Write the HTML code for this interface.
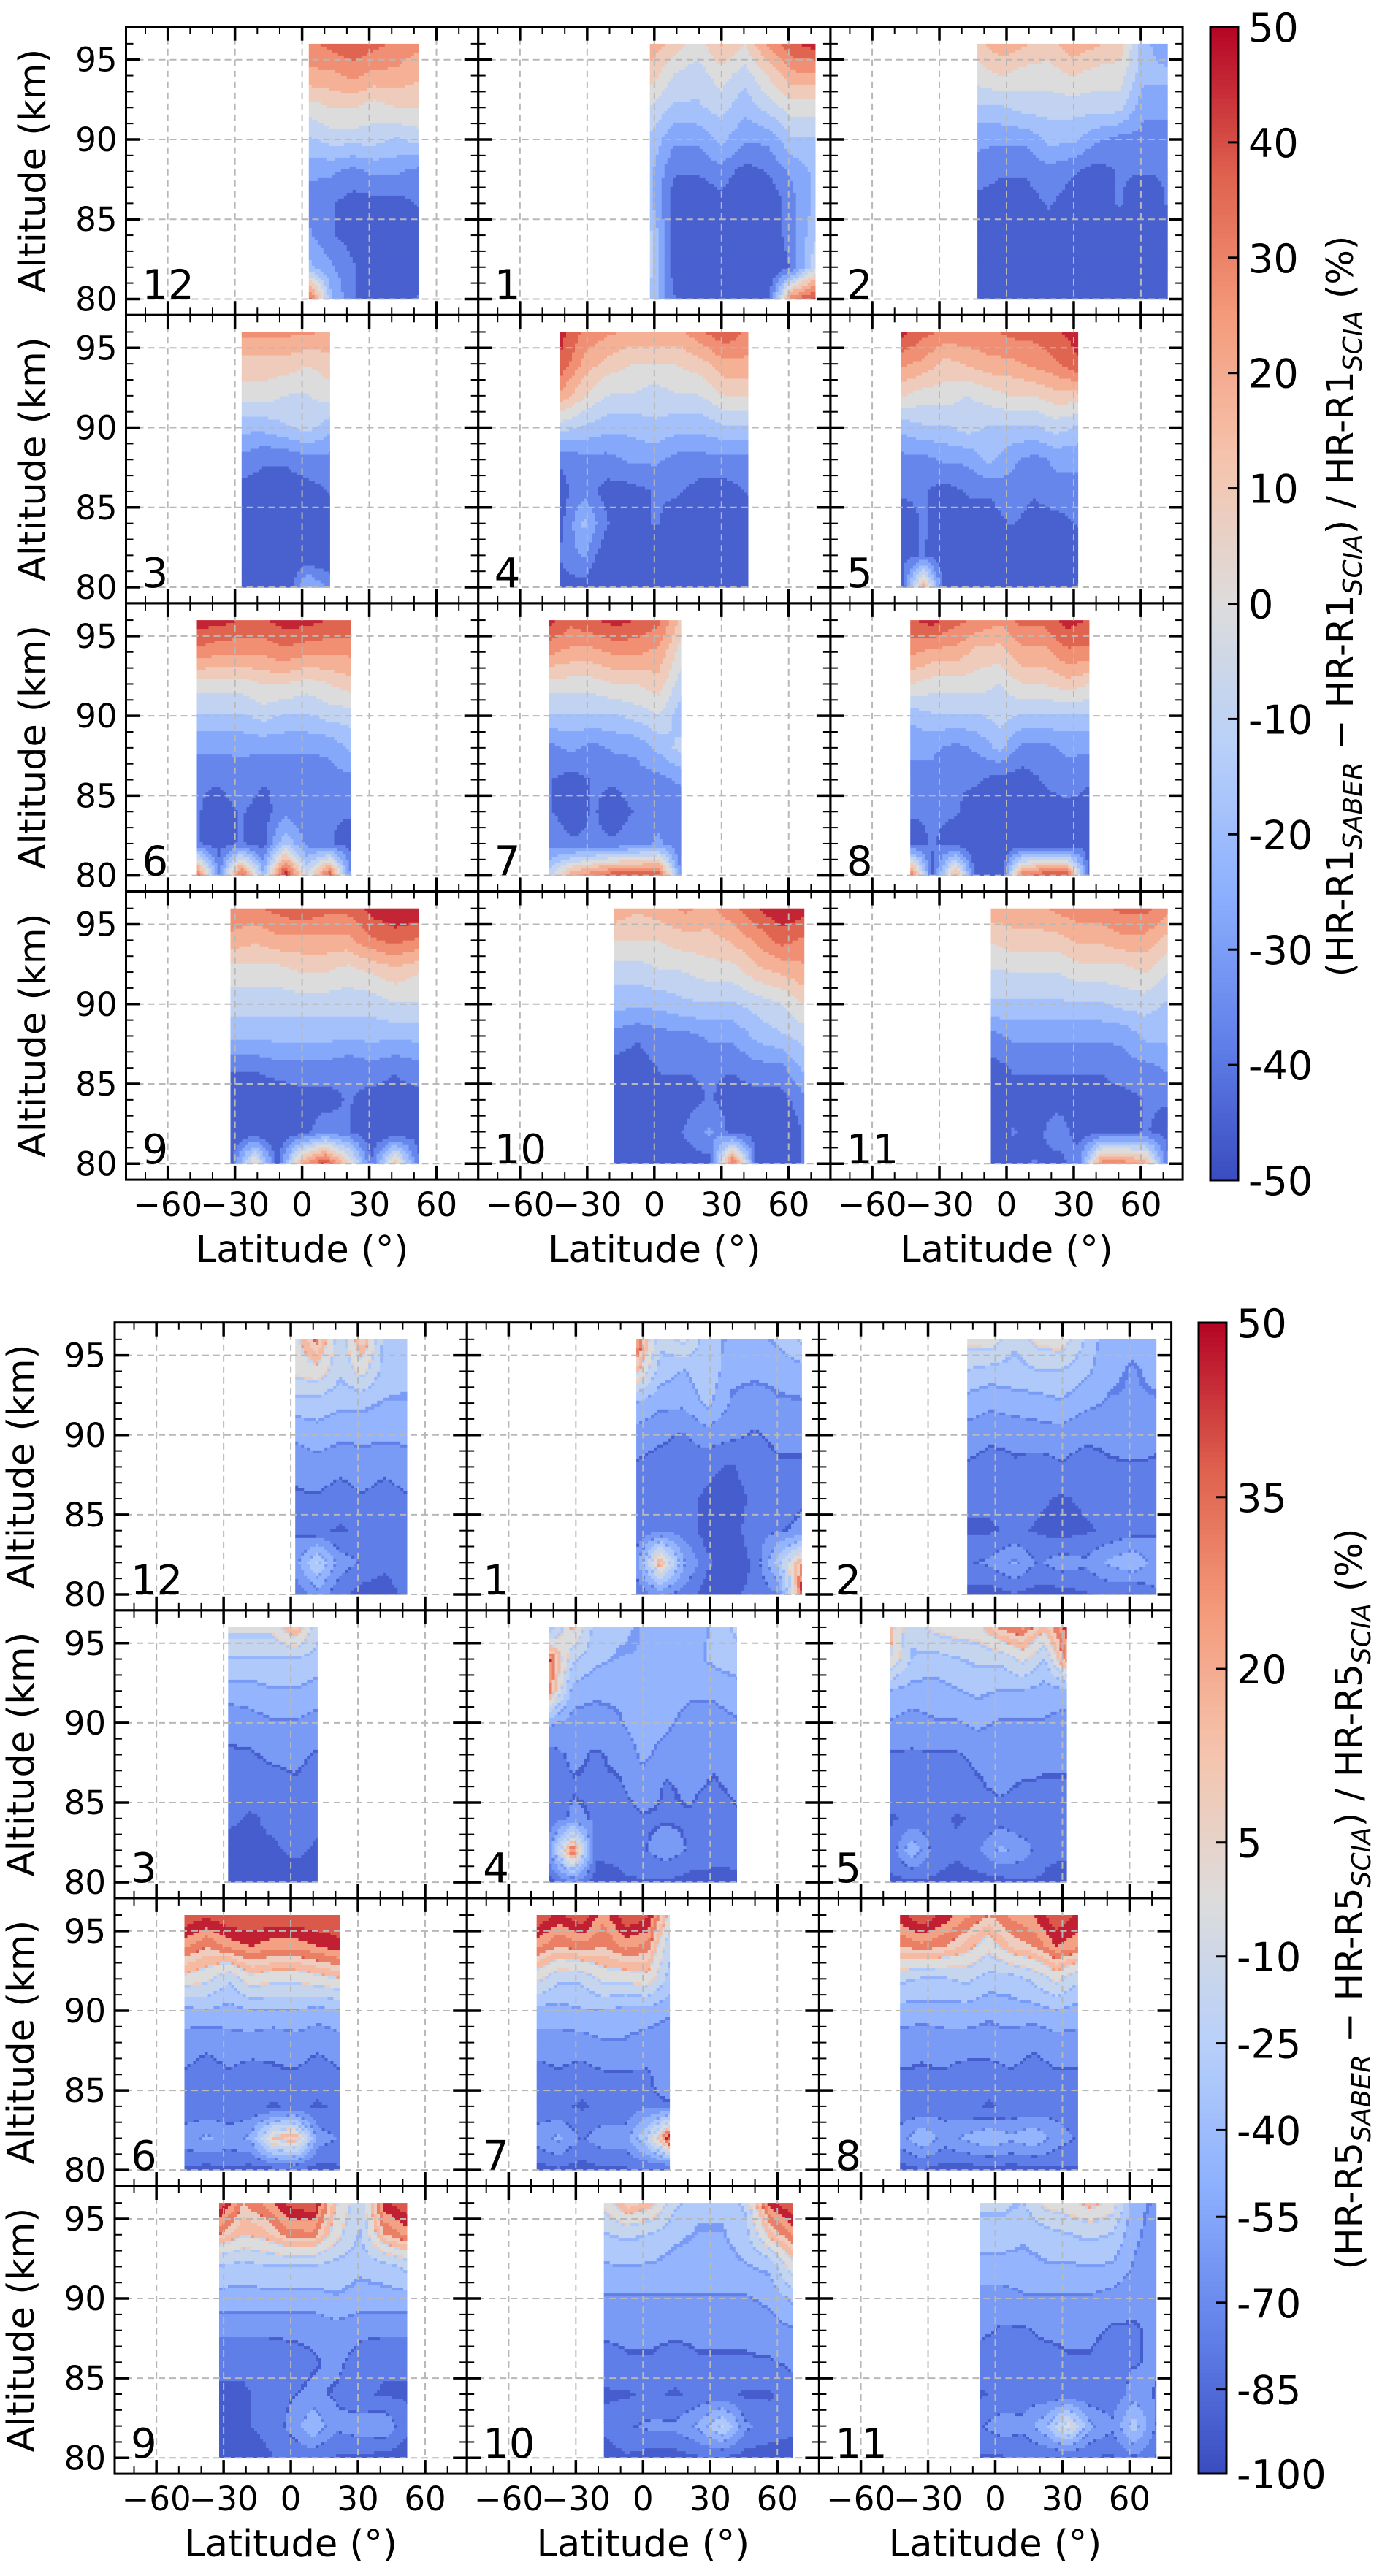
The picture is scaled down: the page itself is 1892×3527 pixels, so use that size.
<!DOCTYPE html>
<html><head><meta charset="utf-8"><style>
html,body{margin:0;padding:0;background:#fff;}
svg{display:block;font-family:"DejaVu Sans","Liberation Sans",sans-serif;}
</style></head><body>
<svg id="chart" xmlns="http://www.w3.org/2000/svg" width="1892" height="3527" viewBox="0 0 1892 3527">
<rect x="0" y="0" width="1892" height="3527" fill="#fff"/>
<text transform="translate(1852,830) rotate(-90)" text-anchor="middle" font-size="50">(HR-R1<tspan font-size="36" font-style="italic" dy="12">SABER</tspan><tspan dy="-12"> − HR-R1</tspan><tspan font-size="36" font-style="italic" dy="12">SCIA</tspan><tspan dy="-12">) / HR-R1</tspan><tspan font-size="36" font-style="italic" dy="12">SCIA</tspan><tspan dy="-12"> (%)</tspan></text>
<text transform="translate(1864,2600) rotate(-90)" text-anchor="middle" font-size="50">(HR-R5<tspan font-size="36" font-style="italic" dy="12">SABER</tspan><tspan dy="-12"> − HR-R5</tspan><tspan font-size="36" font-style="italic" dy="12">SCIA</tspan><tspan dy="-12">) / HR-R5</tspan><tspan font-size="36" font-style="italic" dy="12">SCIA</tspan><tspan dy="-12"> (%)</tspan></text>
</svg>
<script>
// ---------- data ----------
const months = [12,1,2,3,4,5,6,7,8,9,10,11];
const altitudes = [96,94,92,90,88,86,84,82,80];
const xTicks = [-60,-30,0,30,60];
const yTicks = [80,85,90,95];
const cbTicksR1 = [50,40,30,20,10,0,-10,-20,-30,-40,-50];
const cbTicksR5 = [50,35,20,5,-10,-25,-40,-55,-70,-85,-100];
const cbFracR5 = [0,0.1515,0.3008,0.4516,0.5506,0.6260,0.7014,0.7768,0.8514,0.9268,1];

const r1Lat = [[3,52],[-2,72],[-13,72],[-27,12.5],[-42,42],[-47,32],[-47,22],[-47,12],[-43,37],[-32,52],[-18,67],[-7,72]];
const r5Lat = [[2,52],[-3,71],[-12.5,72],[-28,12],[-42,42],[-47,32],[-47.5,22],[-47.5,12],[-42.5,37],[-32,52],[-17.5,67],[-7,72]];

const r1m12=[[30,35,40,35,30,25],[20,20,25,20,20,15],[0,5,5,0,5,5],[-15,-10,-10,-10,-15,-10],[-30,-30,-35,-30,-30,-35],[-35,-40,-45,-45,-45,-40],[-30,-40,-45,-45,-50,-45],[-20,-30,-40,-45,-50,-45],[40,-20,-40,-45,-45,-40]];
const r1m1=[[20,10,0,15,5,25,40,45],[10,-5,-10,0,-10,5,20,20],[-5,-15,-15,-10,-20,-10,0,0],[-15,-30,-30,-20,-30,-30,-15,-15],[-20,-40,-40,-35,-45,-40,-30,-20],[-20,-45,-50,-45,-50,-50,-35,-20],[-10,-45,-50,-50,-55,-50,-35,-15],[-10,-45,-50,-55,-55,-50,-40,-5],[-15,-40,-45,-50,-50,-45,30,45]];
const r1m2=[[10,20,15,10,20,15,10,-20,-30],[0,5,0,0,5,0,0,-20,-20],[-15,-15,-10,-10,-10,-10,-10,-30,-30],[-30,-30,-30,-20,-20,-30,-35,-35,-35],[-35,-40,-40,-35,-40,-45,-40,-40,-40],[-45,-45,-45,-40,-45,-45,-40,-50,-40],[-50,-45,-50,-45,-50,-45,-45,-50,-45],[-50,-50,-45,-50,-50,-45,-45,-50,-45],[-50,-50,-45,-45,-50,-45,-50,-45,-50]];
const r1m3=[[25,25,25,25,20],[10,10,10,5,10],[0,0,-5,-5,0],[-20,-20,-15,-10,-20],[-35,-40,-40,-35,-35],[-45,-45,-45,-45,-40],[-50,-50,-45,-50,-45],[-50,-55,-50,-50,-50],[-50,-50,-50,-20,-35]];
const r1m4=[[45,30,25,20,20,20,30,40,30],[40,20,10,5,5,5,10,20,20],[20,5,-5,-5,-10,-5,-5,5,5],[-10,-15,-20,-20,-15,-20,-20,-15,-15],[-40,-35,-35,-30,-30,-35,-35,-35,-35],[-45,-35,-45,-45,-40,-40,-45,-45,-40],[-45,-20,-40,-50,-40,-45,-50,-50,-45],[-40,-30,-50,-55,-50,-45,-50,-55,-50],[-45,-45,-55,-55,-50,-50,-55,-55,-50]];
const r1m5=[[45,35,30,30,30,35,35,40,45],[25,20,10,15,20,20,25,30,40],[5,0,0,-5,0,5,5,10,10],[-20,-15,-15,-10,-15,-15,-15,-10,-15],[-35,-35,-30,-30,-20,-30,-35,-30,-30],[-40,-40,-45,-40,-40,-35,-40,-35,-35],[-45,-40,-45,-45,-45,-40,-45,-45,-40],[-45,-40,-50,-45,-50,-50,-45,-45,-45],[-45,20,-50,-50,-50,-45,-50,-45,-40]];
const r1m6=[[45,45,40,40,45,45,40,40],[30,25,25,25,30,25,25,25],[0,0,0,5,5,0,5,10],[-15,-15,-15,-10,-15,-15,-10,-10],[-30,-30,-30,-30,-30,-30,-30,-20],[-40,-40,-35,-40,-40,-40,-35,-35],[-40,-45,-40,-45,-35,-40,-40,-40],[-40,-45,-40,-45,-15,-35,-40,-45],[40,-35,40,-20,50,-5,40,-35]];
const r1m7=[[45,35,40,45,40,35,10],[25,20,20,25,25,20,0],[0,0,0,5,5,10,-10],[-15,-15,-15,-15,-10,-5,-20],[-35,-30,-35,-30,-30,-20,-10],[-40,-45,-40,-40,-35,-35,-30],[-40,-45,-40,-45,-40,-35,-40],[-35,-40,-40,-40,-35,-30,-40],[-10,20,30,40,40,40,-35]];
const r1m8=[[40,45,35,30,25,35,35,45,40],[25,20,20,10,10,20,20,30,30],[5,0,0,0,-5,5,5,10,5],[-20,-15,-15,-15,-10,-15,-15,-15,-15],[-30,-30,-35,-30,-20,-35,-35,-30,-30],[-35,-35,-40,-40,-45,-45,-40,-35,-40],[-40,-40,-40,-45,-50,-45,-45,-45,-45],[-45,-40,-45,-50,-50,-50,-50,-50,-45],[40,-45,20,-50,-50,30,40,40,-45]];
const r1m9=[[30,30,35,40,35,35,45,50,50],[20,15,20,20,20,20,30,35,30],[0,0,0,5,5,0,5,10,5],[-10,-10,-10,-10,-10,-10,-10,-5,-5],[-20,-20,-20,-20,-20,-20,-20,-20,-20],[-40,-40,-35,-35,-35,-40,-35,-40,-35],[-50,-50,-50,-45,-45,-40,-45,-45,-45],[-50,-50,-50,-45,-35,-40,-50,-50,-45],[-45,10,-45,20,45,10,-40,15,-40]];
const r1m10=[[20,15,20,25,20,30,40,50,45],[5,5,5,10,10,15,25,35,30],[-10,-10,-5,-5,0,0,10,15,20],[-20,-20,-20,-15,-15,-15,-10,-5,5],[-35,-40,-35,-35,-30,-30,-20,-15,-10],[-45,-45,-40,-40,-40,-40,-35,-35,-20],[-45,-45,-45,-45,-40,-45,-45,-45,-35],[-50,-45,-45,-40,-30,-45,-45,-50,-40],[-50,-45,-45,-45,-45,40,-45,-45,-40]];
const r1m11=[[20,20,20,25,30,30,35,35,25],[5,10,10,10,15,15,20,20,10],[-5,-5,-5,-5,0,0,0,5,-5],[-15,-15,-15,-15,-15,-15,-10,-10,-15],[-35,-30,-30,-30,-30,-30,-30,-20,-20],[-45,-40,-40,-40,-40,-40,-35,-35,-30],[-45,-45,-45,-45,-45,-45,-45,-40,-40],[-50,-40,-45,-35,-45,-45,-45,-40,-45],[-45,-45,-40,-45,-35,30,30,20,-40]];

const r5m12=[[0,25,-22,20,-32,-37],[-5,0,-22,-5,-32,-37],[-32,-32,-37,-37,-42,-42],[-52,-47,-52,-52,-52,-52],[-67,-62,-67,-62,-67,-62],[-72,-72,-77,-72,-77,-72],[-72,-82,-87,-82,-82,-77],[-62,-22,-62,-72,-82,-72],[-82,-62,-82,-92,-92,-82]];
const r5m1=[[40,-22,-5,-37,-42,-47,-37,-22],[10,-32,-42,-27,-52,-52,-52,-47],[-42,-52,-52,-37,-57,-62,-57,-57],[-62,-67,-72,-62,-67,-72,-67,-67],[-72,-77,-77,-82,-87,-77,-72,-72],[-72,-82,-82,-87,-92,-82,-77,-72],[-82,-72,-77,-92,-92,-77,-72,-67],[-62,20,-52,-82,-97,-82,-32,20],[-82,-67,-77,-92,-87,-82,-72,50]];
const r5m2=[[-5,0,-22,-5,0,-27,-52,-52,-47],[-27,-32,-32,-27,-27,-37,-52,-57,-52],[-47,-52,-47,-47,-42,-52,-57,-57,-57],[-62,-67,-67,-62,-62,-67,-67,-62,-67],[-72,-77,-72,-77,-72,-77,-72,-72,-72],[-82,-82,-77,-82,-87,-82,-82,-77,-77],[-87,-87,-82,-87,-92,-87,-82,-77,-72],[-72,-67,-52,-72,-62,-67,-52,-42,-62],[-92,-92,-87,-92,-92,-87,-82,-87,-72]];
const r5m3=[[-5,-5,-5,20,-22],[-27,-27,-27,-27,-32],[-47,-47,-42,-42,-47],[-67,-62,-57,-57,-62],[-72,-72,-67,-67,-72],[-77,-77,-77,-72,-77],[-82,-87,-82,-82,-82],[-92,-87,-87,-82,-87],[-97,-97,-92,-92,-92]];
const r5m4=[[-42,10,-32,-37,-42,-42,-52,-37,-22],[40,-22,-37,-42,-42,-42,-47,-37,-32],[30,-47,-52,-52,-47,-47,-52,-52,-47],[-52,-62,-62,-57,-47,-52,-62,-62,-57],[-77,-67,-72,-67,-52,-62,-67,-67,-67],[-82,-72,-72,-72,-62,-72,-67,-72,-67],[-82,-67,-72,-77,-72,-72,-72,-82,-72],[-62,40,-82,-82,-72,-62,-72,-77,-82],[-92,-72,-92,-87,-87,-87,-92,-92,-87]];
const r5m5=[[10,-22,-5,0,0,25,30,10,40],[5,-27,-32,-27,-22,-22,-5,-27,30],[-42,-47,-47,-42,-37,-42,-42,-47,-47],[-57,-62,-57,-57,-52,-57,-57,-57,-62],[-72,-72,-72,-72,-67,-67,-62,-67,-67],[-77,-77,-72,-77,-72,-67,-72,-72,-72],[-87,-82,-77,-87,-82,-77,-82,-77,-82],[-82,-42,-77,-82,-72,-52,-62,-82,-82],[-87,-92,-87,-92,-92,-92,-87,-87,-92]];
const r5m6=[[50,45,50,50,50,50,50,50],[30,20,30,35,30,30,35,40],[0,-5,-22,0,-5,-5,0,5],[-47,-42,-47,-42,-42,-42,-47,-42],[-62,-67,-62,-62,-67,-62,-67,-62],[-72,-77,-72,-77,-72,-72,-77,-72],[-82,-82,-82,-82,-87,-82,-87,-82],[-62,-52,-62,-52,10,20,-62,-72],[-87,-92,-87,-92,-92,-87,-92,-87]];
const r5m7=[[50,40,50,30,50,45,0],[30,20,25,20,30,25,-22],[-5,-22,-22,-5,-5,0,-32],[-47,-47,-42,-42,-47,-47,-52],[-62,-62,-62,-57,-57,-62,-67],[-77,-72,-77,-72,-72,-72,-62],[-82,-82,-87,-82,-82,-72,-72],[-62,-52,-72,-62,-62,-22,50],[-92,-87,-92,-87,-87,-87,-92]];
const r5m8=[[40,50,40,30,20,30,35,50,40],[20,25,20,10,-5,15,20,35,30],[-22,-27,-27,-22,-32,-32,-22,-5,-22],[-47,-47,-47,-47,-52,-47,-47,-42,-47],[-62,-67,-62,-62,-62,-62,-67,-62,-62],[-72,-72,-72,-77,-77,-72,-77,-72,-72],[-82,-82,-77,-82,-87,-82,-82,-77,-82],[-62,-42,-62,-52,-42,-52,-42,-62,-72],[-92,-87,-92,-92,-92,-92,-92,-87,-87]];
const r5m9=[[50,20,30,45,50,5,-22,40,50],[20,5,10,25,25,-5,-27,20,30],[-27,-32,-27,-27,-27,-32,-37,-32,-22],[-47,-47,-47,-47,-47,-42,-47,-47,-47],[-67,-67,-67,-67,-67,-62,-67,-67,-67],[-82,-82,-82,-77,-72,-67,-77,-82,-82],[-87,-87,-82,-72,-67,-72,-82,-87,-87],[-87,-87,-82,-67,-42,-67,-62,-57,-82],[-92,-92,-87,-82,-82,-87,-87,-92,-92]];
const r5m10=[[-5,20,10,-22,-37,-37,-22,40,50],[-27,-22,-27,-37,-42,-42,-32,10,30],[-42,-42,-42,-47,-47,-47,-42,-37,0],[-57,-57,-57,-57,-57,-57,-57,-52,-37],[-67,-67,-67,-67,-67,-67,-67,-62,-57],[-77,-72,-72,-77,-72,-72,-72,-72,-67],[-87,-87,-82,-87,-82,-82,-87,-87,-77],[-82,-72,-67,-67,-52,-22,-67,-77,-82],[-92,-87,-92,-92,-87,-87,-92,-92,-92]];
const r5m11=[[-22,-22,-27,-5,0,10,0,-52,-57],[-32,-32,-37,-32,-27,-22,-27,-52,-62],[-47,-47,-47,-42,-42,-42,-42,-57,-67],[-62,-62,-57,-57,-57,-57,-62,-67,-67],[-67,-72,-72,-67,-67,-67,-72,-72,-67],[-77,-77,-77,-77,-72,-72,-77,-72,-67],[-87,-82,-77,-82,-82,-82,-82,-62,-72],[-72,-62,-67,-42,0,-52,-67,-32,-72],[-87,-87,-82,-87,-87,-87,-87,-72,-87]];

const r1Grids=[r1m12,r1m1,r1m2,r1m3,r1m4,r1m5,r1m6,r1m7,r1m8,r1m9,r1m10,r1m11];
const r5Grids=[r5m12,r5m1,r5m2,r5m3,r5m4,r5m5,r5m6,r5m7,r5m8,r5m9,r5m10,r5m11];

// ---------- rendering ----------
const NS='http://www.w3.org/2000/svg';
const svg=document.getElementById('chart');
function mk(tag,parent){const e=document.createElementNS(NS,tag);(parent||svg).appendChild(e);return e;}
const CW=[[0,58,76,192],[0.125,98,130,234],[0.25,141,176,254],[0.375,184,208,249],[0.5,221,220,220],[0.625,245,196,173],[0.75,244,154,123],[0.875,222,96,77],[1,180,4,38]];
function cw(f){f=Math.max(0,Math.min(1,f));for(let i=1;i<CW.length;i++){if(f<=CW[i][0]){const a=CW[i-1],b=CW[i],t=(f-a[0])/(b[0]-a[0]);return 'rgb('+[1,2,3].map(k=>Math.round(a[k]+(b[k]-a[k])*t)).join(',')+')';}}return 'rgb(180,4,38)';}
function normR1(v){return (v+50)/100;}
function normR5(v){
  if(v>=cbTicksR5[0])return 1; if(v<=cbTicksR5[cbTicksR5.length-1])return 0;
  for(let i=1;i<cbTicksR5.length;i++){if(v>=cbTicksR5[i]){const t=(v-cbTicksR5[i])/(cbTicksR5[i-1]-cbTicksR5[i]);return 1-(cbFracR5[i]+(cbFracR5[i-1]-cbFracR5[i])*(1-t));}}
  return 0;}

const LAT0=-78.65,LAT1=78.65,ALT0=79.0,ALT1=97.06;

function drawFigure(cfg){
  const g=mk('g');  
  for(let i=0;i<12;i++){
    const col=i%3,row=Math.floor(i/3);
    const X=cfg.left+col*cfg.colW, Y=cfg.top+row*cfg.rowH, W=cfg.colW, H=cfg.rowH;
    const xp=lat=>X+(lat-LAT0)/(LAT1-LAT0)*W;
    const yp=alt=>Y+(ALT1-alt)/(ALT1-ALT0)*H;
    const pg=mk('g',g);  
    const grid=cfg.grids[i], lr=cfg.lats[i], nx=grid[0].length, ny=altitudes.length;
    const x0=xp(lr[0]),x1=xp(lr[1]),y0=yp(altitudes[0]),y1=yp(altitudes[ny-1]);
    const fg=mk('g',pg);  
    const st=4;
    const valAt=(lat,alt)=>{
      let r=(altitudes[0]-alt)/(altitudes[0]-altitudes[ny-1])*(ny-1); r=Math.max(0,Math.min(ny-1,r));
      let c=(lat-lr[0])/(lr[1]-lr[0])*(nx-1); c=Math.max(0,Math.min(nx-1,c));
      const r0=Math.min(ny-2,Math.floor(r)),c0=Math.min(nx-2,Math.floor(c)),tr=r-r0,tc=c-c0;
      const a=grid[r0][c0],b=grid[r0][c0+1],d=grid[r0+1][c0],e=grid[r0+1][c0+1];
      return (a*(1-tc)+b*tc)*(1-tr)+(d*(1-tc)+e*tc)*tr;};
    for(let py=y0;py<y1-0.01;py+=st){
      const h=Math.min(st,y1-py), alt=ALT1-(py+h/2-Y)/H*(ALT1-ALT0);
      let runStart=x0,runBin=null;
      const flush=(xe)=>{if(runBin===null)return;const r=mk('rect',fg);r.setAttribute('x',runStart.toFixed(1));r.setAttribute('y',py.toFixed(1));r.setAttribute('width',(xe-runStart+0.6).toFixed(1));r.setAttribute('height',(h+0.6).toFixed(1));r.setAttribute('fill',cw((runBin+0.5)/cfg.nb));
        
        };
      for(let px=x0;px<x1-0.01;px+=st){
        const w=Math.min(st,x1-px), lat=LAT0+(px+w/2-X)/W*(LAT1-LAT0);
        const f=cfg.norm(valAt(lat,alt)); const bin=Math.max(0,Math.min(cfg.nb-1,Math.floor(f*cfg.nb)));
        if(bin!==runBin){flush(px);runStart=px;runBin=bin;}
      }
      flush(x1-0.6);
    }
    const gl=mk('g',pg);  
    xTicks.forEach(t=>{const l=mk('line',gl);l.setAttribute('x1',xp(t));l.setAttribute('x2',xp(t));l.setAttribute('y1',Y);l.setAttribute('y2',Y+H);l.setAttribute('stroke','#b8b8b8');l.setAttribute('stroke-width','2');l.setAttribute('stroke-dasharray','9,6');});
    yTicks.forEach(t=>{const l=mk('line',gl);l.setAttribute('y1',yp(t));l.setAttribute('y2',yp(t));l.setAttribute('x1',X);l.setAttribute('x2',X+W);l.setAttribute('stroke','#b8b8b8');l.setAttribute('stroke-width','2');l.setAttribute('stroke-dasharray','9,6');});
    const tk=mk('g',pg);  
    const tick=(x1_,y1_,x2_,y2_,w)=>{const l=mk('line',tk);l.setAttribute('x1',x1_);l.setAttribute('y1',y1_);l.setAttribute('x2',x2_);l.setAttribute('y2',y2_);l.setAttribute('stroke','#000');l.setAttribute('stroke-width',w);};
    for(let lat=-70;lat<=70;lat+=10){const maj=lat%30===0,L=maj?19:10,w=maj?3.5:2,x=xp(lat);tick(x,Y+H,x,Y+H-L,w);tick(x,Y,x,Y+L,w);}
    for(let a=80;a<=96;a++){const maj=a%5===0,L=maj?19:10,w=maj?3.5:2,y=yp(a);tick(X,y,X+L,y,w);tick(X+W,y,X+W-L,y,w);}
    const fr=mk('rect',pg);fr.setAttribute('x',X);fr.setAttribute('y',Y);fr.setAttribute('width',W);fr.setAttribute('height',H);fr.setAttribute('fill','none');fr.setAttribute('stroke','#000');fr.setAttribute('stroke-width','3');
    
    
    const mt=mk('text',pg);mt.setAttribute('x',X+22);mt.setAttribute('y',Y+H-22);mt.setAttribute('font-size','56');mt.textContent=months[i];
    
    
    if(col===0){
      yTicks.forEach(t=>{const tt=mk('text',pg);tt.setAttribute('x',X-12);tt.setAttribute('y',yp(t)+16);tt.setAttribute('text-anchor','end');tt.setAttribute('font-size','45');tt.textContent=t;
        
        });
      const yl=mk('text',pg);yl.setAttribute('transform','translate('+(cfg.ylabX)+','+(Y+H/2)+') rotate(-90)');yl.setAttribute('text-anchor','middle');yl.setAttribute('font-size','51');yl.textContent='Altitude (km)';
      
      
    }
    if(row===3){
      xTicks.forEach(t=>{const tt=mk('text',pg);tt.setAttribute('x',xp(t));tt.setAttribute('y',Y+H+50);tt.setAttribute('text-anchor','middle');tt.setAttribute('font-size','45');tt.textContent=(t<0?'\u2212'+(-t):''+t);
        
        });
      const xl=mk('text',pg);xl.setAttribute('x',X+W/2);xl.setAttribute('y',Y+H+113);xl.setAttribute('text-anchor','middle');xl.setAttribute('font-size','51');xl.textContent='Latitude (\u00b0)';
      
      
    }
  }
  const cb=mk('g',g);  
  const N=240;
  for(let k=0;k<N;k++){const r=mk('rect',cb);r.setAttribute('x',cfg.cb.x);r.setAttribute('y',(cfg.cb.y+k*cfg.cb.h/N).toFixed(2));r.setAttribute('width',cfg.cb.w);r.setAttribute('height',(cfg.cb.h/N+0.8).toFixed(2));r.setAttribute('fill',cw(1-(k+0.5)/N));}
  const cf=mk('rect',cb);cf.setAttribute('x',cfg.cb.x);cf.setAttribute('y',cfg.cb.y);cf.setAttribute('width',cfg.cb.w);cf.setAttribute('height',cfg.cb.h);cf.setAttribute('fill','none');cf.setAttribute('stroke','#000');cf.setAttribute('stroke-width','3');
  cfg.cbTicks.forEach((v,j)=>{
    const y=cfg.cb.y+cfg.cbPos(v,j)*cfg.cb.h;
    const l=mk('line',cb);l.setAttribute('x1',cfg.cb.x+cfg.cb.w);l.setAttribute('x2',cfg.cb.x+cfg.cb.w-14);l.setAttribute('y1',y);l.setAttribute('y2',y);l.setAttribute('stroke','#000');l.setAttribute('stroke-width','3');
    const t=mk('text',cb);t.setAttribute('x',cfg.cb.x+cfg.cb.w+14);t.setAttribute('y',y+20);t.setAttribute('font-size','54');t.textContent=v;
    
    
  });
}

drawFigure({name:'figure-r1',left:172.5,top:36.7,colW:482.2,rowH:394.6,grids:r1Grids,lats:r1Lat,norm:normR1,nb:11,ylabX:62,
  cb:{x:1657,y:37,w:38,h:1579},cbTicks:cbTicksR1,cbPos:(v)=>1-normR1(v)});
drawFigure({name:'figure-r5',left:157,top:1810.7,colW:482.2,rowH:394.1,grids:r5Grids,lats:r5Lat,norm:normR5,nb:13,ylabX:46,
  cb:{x:1641,y:1811,w:38,h:1576},cbTicks:cbTicksR5,cbPos:(v,j)=>cbFracR5[j]});
</script>
</body></html>
